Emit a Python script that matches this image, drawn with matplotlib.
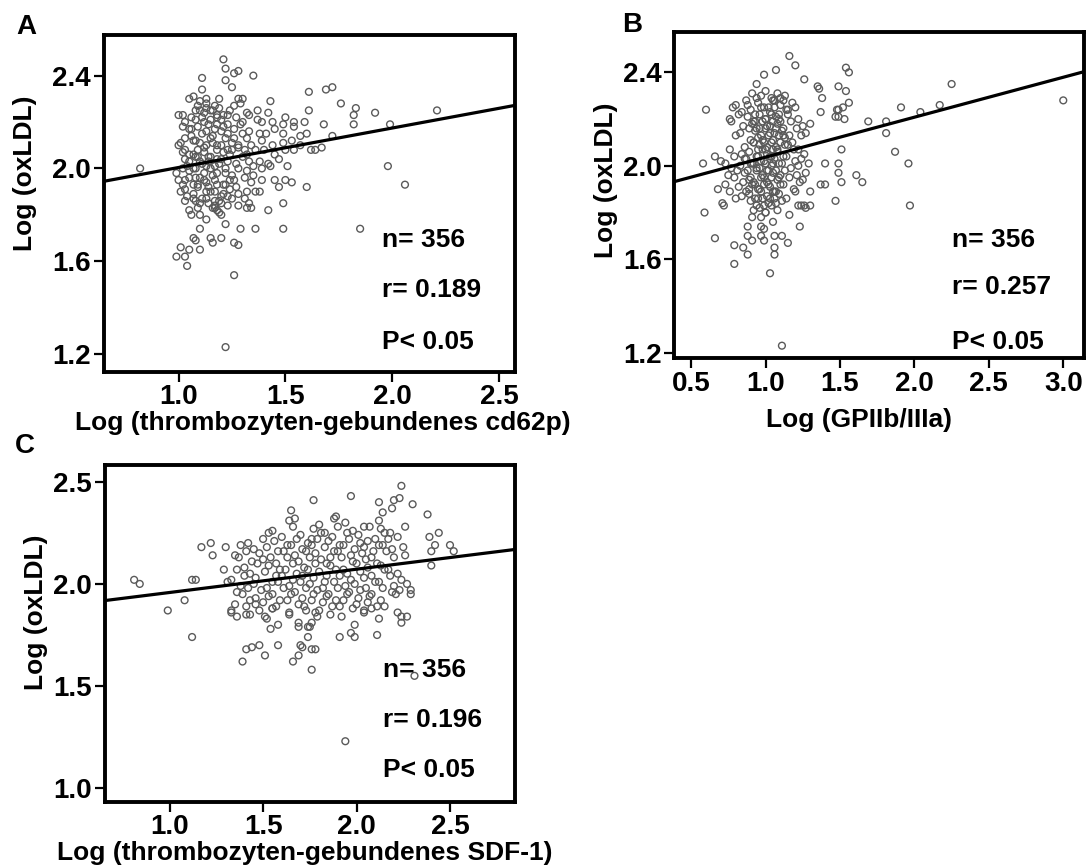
from matplotlib import pyplot as plt
import numpy as np

plt.rcParams["font.family"] = ["Liberation Sans", "DejaVu Sans"]
plt.rcParams["font.weight"] = "bold"
plt.rcParams["font.size"] = 19

# ---- panel A : Log(thrombozyten-gebundenes cd62p) vs Log(oxLDL) ----
a_x = [1.05, 1.07, 1.10, 1.13, 1.17, 1.28, 1.30, 1.29,
       1.02, 1.08, 1.10, 1.13, 1.16, 1.18, 1.23, 1.26, 1.32, 1.37, 1.42, 1.50, 1.54,
       1.00, 1.03, 1.08, 1.11, 1.15, 1.18, 1.21, 1.23, 1.27, 1.30, 1.33, 1.37, 1.39, 1.44, 1.49, 1.54,
       1.02, 1.05, 1.09, 1.13, 1.17, 1.20, 1.23, 1.26, 1.30, 1.33, 1.38, 1.41, 1.45, 1.49, 1.57, 1.60,
       1.01, 1.03, 1.07, 1.10, 1.13, 1.15, 1.18, 1.22, 1.25, 1.28, 1.32, 1.34, 1.39, 1.44, 1.49, 1.53, 1.57,
       1.00, 1.03, 1.07, 1.09, 1.12, 1.15, 1.18, 1.21, 1.25, 1.28, 1.32, 1.36, 1.40, 1.45, 1.50,
       1.03, 1.05, 1.08, 1.11, 1.14, 1.17, 1.20, 1.23, 1.27, 1.30, 1.33, 1.38, 1.42, 1.47,
       0.99, 1.02, 1.05, 1.08, 1.12, 1.15, 1.18, 1.22, 1.25, 1.28, 1.32, 1.35, 1.39, 1.43,
       1.00, 1.03, 1.07, 1.10, 1.13, 1.17, 1.21, 1.24, 1.27, 1.31, 1.34, 1.39, 1.45, 1.47,
       1.01, 1.03, 1.07, 1.09, 1.13, 1.17, 1.20, 1.24, 1.28, 1.32, 1.36, 1.38,
       1.03, 1.07, 1.10, 1.13, 1.17, 1.20, 1.25, 1.31, 1.33,
       1.05, 1.09, 1.17, 1.18, 1.23, 1.28, 1.32, 1.34,
       1.12, 1.14, 1.19, 1.20, 1.16, 1.11, 1.06, 1.09, 1.13, 1.16, 1.19, 1.14, 1.08, 1.11,
       1.17, 1.19, 1.21, 1.24, 1.26, 1.05,
       0.82, 1.21, 1.22, 1.22, 1.26, 1.28, 1.35, 1.11, 1.11, 1.25, 1.61, 1.69, 1.72, 1.43,
       1.76, 1.83, 1.92, 2.21, 1.99, 1.82, 1.82, 1.68, 1.72, 1.61, 1.59, 1.62, 1.64, 1.67,
       1.54, 1.98, 2.06, 1.60, 1.53, 1.50, 1.51, 1.85, 1.49, 1.36, 1.29, 1.22, 1.42, 1.49,
       1.26, 1.22, 1.26, 1.28, 1.20, 1.16, 1.15, 1.07, 1.08, 1.10, 1.01, 1.05, 1.03, 1.04,
       0.99, 1.10, 1.06, 1.13, 1.20,
       1.06, 1.09, 1.12, 1.15, 1.18, 1.21, 1.08, 1.12, 1.16, 1.20, 1.23, 1.04, 1.07, 1.10,
       1.14, 1.18, 1.22, 1.05, 1.09, 1.12, 1.15, 1.18, 1.22, 1.26, 1.04, 1.08, 1.14, 1.16,
       1.19, 1.23, 1.02, 1.06, 1.13, 1.19, 1.24, 1.29, 1.31, 1.35, 1.02, 1.10]
a_y = [2.30, 2.31, 2.29, 2.28, 2.27, 2.30, 2.30, 2.28,
       2.23, 2.25, 2.25, 2.26, 2.25, 2.23, 2.23, 2.27, 2.24, 2.25, 2.24, 2.22, 2.20,
       2.23, 2.20, 2.21, 2.22, 2.21, 2.19, 2.23, 2.19, 2.22, 2.20, 2.23, 2.21, 2.20, 2.20, 2.19, 2.18,
       2.18, 2.17, 2.18, 2.16, 2.17, 2.16, 2.15, 2.17, 2.15, 2.16, 2.15, 2.15, 2.17, 2.15, 2.14, 2.15,
       2.11, 2.13, 2.12, 2.11, 2.10, 2.13, 2.10, 2.13, 2.11, 2.10, 2.13, 2.10, 2.12, 2.10, 2.11, 2.12, 2.10,
       2.10, 2.08, 2.06, 2.08, 2.07, 2.05, 2.08, 2.07, 2.08, 2.09, 2.06, 2.08, 2.08, 2.06, 2.08,
       2.04, 2.03, 2.05, 2.02, 2.03, 2.01, 2.04, 2.03, 2.02, 2.05, 2.03, 2.03, 2.02, 2.04,
       1.98, 2.00, 1.99, 2.00, 1.98, 2.00, 1.98, 2.00, 1.97, 2.00, 1.99, 1.97, 2.00, 2.01,
       1.95, 1.95, 1.93, 1.96, 1.94, 1.95, 1.93, 1.95, 1.92, 1.96, 1.94, 1.95, 1.95, 1.92,
       1.90, 1.91, 1.89, 1.92, 1.90, 1.90, 1.88, 1.91, 1.89, 1.90, 1.90, 1.90,
       1.86, 1.87, 1.85, 1.87, 1.86, 1.85, 1.87, 1.87, 1.85,
       1.82, 1.83, 1.83, 1.82, 1.84, 1.84, 1.83, 1.83,
       2.24, 2.19, 2.26, 2.21, 2.14, 2.15, 2.14, 2.05, 2.01, 1.97, 2.02, 1.92, 1.96, 1.87,
       1.84, 1.81, 1.89, 2.06, 2.13, 2.06,
       2.00, 2.47, 2.43, 2.38, 2.41, 2.42, 2.40, 2.39, 2.34, 2.35, 2.33, 2.34, 2.35, 2.29,
       2.28, 2.26, 2.24, 2.25, 2.19, 2.19, 2.23, 2.19, 2.14, 2.25, 2.20, 2.08, 2.08, 2.09,
       2.08, 2.01, 1.93, 1.92, 1.94, 1.95, 2.01, 1.74, 1.74, 1.74, 1.74, 1.76, 1.82, 1.85,
       1.54, 1.23, 1.68, 1.67, 1.70, 1.68, 1.70, 1.70, 1.69, 1.65, 1.66, 1.65, 1.62, 1.58,
       1.62, 1.74, 1.80, 1.78, 1.80,
       2.22, 2.27, 2.20, 2.25, 2.22, 2.18, 2.12, 2.09, 2.11, 2.10, 2.08, 2.01, 2.00, 2.03,
       2.05, 2.04, 1.98, 1.96, 1.93, 1.95, 1.90, 1.93, 1.93, 1.95, 1.88, 1.86, 1.85, 1.83,
       1.86, 1.88, 2.07, 2.17, 2.30, 2.30, 2.25, 2.19, 2.08, 2.01, 1.93, 1.80]
a_fit = (1.834, 0.170)   # intercept, slope
a_stats = ["n= 356", "r= 0.189", "P< 0.05"]

# ---- panel B : Log(GPIIb/IIIa) vs Log(oxLDL) ----
b_x = [0.91, 0.94, 0.97, 1.00, 1.05, 1.08, 1.10, 1.13,
       0.80, 0.87, 0.95, 1.02, 1.06, 1.10, 1.12, 1.18,
       0.78, 0.84, 0.90, 0.93, 0.99, 1.03, 1.06, 1.09, 1.14, 1.20,
       0.76, 0.82, 0.88, 0.92, 0.96, 1.00, 1.04, 1.07, 1.10, 1.15, 1.22,
       0.77, 0.85, 0.91, 0.94, 0.98, 1.01, 1.05, 1.08, 1.12, 1.17, 1.25, 1.30,
       0.83, 0.89, 0.93, 0.97, 1.00, 1.03, 1.07, 1.11, 1.16, 1.21, 1.27,
       0.80, 0.90, 0.95, 0.99, 1.02, 1.05, 1.09, 1.13, 1.18, 1.24,
       0.86, 0.92, 0.96, 1.00, 1.04, 1.07, 1.10, 1.15, 1.22,
       0.76, 0.84, 0.89, 0.94, 0.98, 1.01, 1.05, 1.08, 1.12, 1.19, 1.26,
       0.70, 0.79, 0.87, 0.91, 0.95, 0.99, 1.03, 1.06, 1.09, 1.14, 1.20, 1.24,
       0.73, 0.77, 0.83, 0.88, 0.92, 0.96, 1.00, 1.04, 1.07, 1.11, 1.17, 1.22, 1.29,
       0.75, 0.81, 0.86, 0.90, 0.94, 0.98, 1.02, 1.05, 1.09, 1.13, 1.21, 1.27,
       0.79, 0.85, 0.89, 0.93, 0.97, 1.01, 1.04, 1.08, 1.12, 1.16, 1.23, 1.25,
       0.68, 0.73, 0.82, 0.87, 0.91, 0.95, 0.99, 1.03, 1.07, 1.10, 1.19,
       0.76, 0.84, 0.89, 0.93, 0.97, 1.01, 1.05, 1.09, 1.14, 1.20,
       0.71, 0.80, 0.90, 0.94, 0.98, 1.02, 1.06, 1.11, 1.22,
       0.72, 0.92, 0.96, 1.00, 1.04, 1.08, 1.24, 1.27,
       0.60, 0.58, 0.66, 0.59, 0.66, 0.79, 0.85, 0.79, 0.88, 1.03, 1.11, 1.16, 1.20, 1.07,
       0.99, 0.94, 1.26, 1.35, 1.36, 1.38, 1.49, 1.54, 1.54, 1.56, 1.56, 1.49, 1.52, 1.48,
       1.37, 1.49, 1.53, 1.47, 1.69, 1.81, 1.81, 1.91, 2.04, 2.17, 2.25, 3.00, 1.87, 1.96,
       1.97, 1.61, 1.65, 1.51, 1.51, 1.47, 1.49, 1.49, 1.40, 1.37, 1.40, 1.30, 1.26, 1.30,
       1.23, 1.16, 1.15, 1.11, 1.06, 1.06, 1.06, 0.99, 0.97, 0.99, 0.97, 0.91, 0.97, 0.88,
       0.88, 0.91, 1.05,
       0.93, 0.96, 1.00, 1.03, 1.06, 1.09, 0.92, 0.95, 0.98, 1.01, 1.04, 1.08, 0.90, 0.94,
       0.97, 1.01, 1.05, 0.92, 0.96, 0.99, 1.02, 1.06, 0.95, 0.99, 1.03, 1.07, 1.10, 1.13,
       1.15, 0.88, 0.97, 1.04, 1.12, 0.86, 0.89, 1.00]
b_y = [2.31, 2.29, 2.30, 2.32, 2.28, 2.31, 2.29, 2.30,
       2.26, 2.28, 2.27, 2.25, 2.28, 2.26, 2.28, 2.27,
       2.25, 2.23, 2.24, 2.22, 2.25, 2.23, 2.25, 2.22, 2.24, 2.25,
       2.20, 2.22, 2.21, 2.19, 2.22, 2.20, 2.22, 2.21, 2.19, 2.22, 2.20,
       2.19, 2.17, 2.18, 2.16, 2.19, 2.17, 2.19, 2.18, 2.16, 2.19, 2.17, 2.18,
       2.14, 2.16, 2.15, 2.13, 2.16, 2.14, 2.16, 2.15, 2.13, 2.16, 2.14,
       2.13, 2.11, 2.12, 2.10, 2.13, 2.11, 2.13, 2.12, 2.10, 2.13,
       2.08, 2.10, 2.09, 2.07, 2.10, 2.08, 2.10, 2.09, 2.07,
       2.07, 2.05, 2.06, 2.04, 2.07, 2.05, 2.07, 2.06, 2.04, 2.07, 2.05,
       2.02, 2.04, 2.03, 2.01, 2.04, 2.02, 2.04, 2.03, 2.01, 2.04, 2.02, 2.03,
       2.01, 1.99, 2.00, 1.98, 2.01, 1.99, 2.01, 2.00, 1.98, 2.01, 1.99, 2.00, 2.01,
       1.96, 1.98, 1.97, 1.95, 1.98, 1.96, 1.98, 1.97, 1.95, 1.98, 1.96, 1.97,
       1.95, 1.93, 1.94, 1.92, 1.95, 1.93, 1.95, 1.94, 1.92, 1.95, 1.93, 1.94,
       1.90, 1.92, 1.91, 1.89, 1.92, 1.90, 1.92, 1.91, 1.89, 1.92, 1.90,
       1.89, 1.87, 1.88, 1.86, 1.89, 1.87, 1.89, 1.88, 1.86, 1.89,
       1.84, 1.86, 1.85, 1.83, 1.86, 1.84, 1.86, 1.85, 1.83,
       1.83, 1.81, 1.82, 1.80, 1.83, 1.81, 1.83, 1.82,
       2.24, 2.01, 2.04, 1.80, 1.69, 1.66, 1.65, 1.58, 1.62, 1.54, 1.23, 2.47, 2.43, 2.41,
       2.39, 2.35, 2.37, 2.34, 2.33, 2.29, 2.34, 2.32, 2.42, 2.40, 2.27, 2.24, 2.25, 2.24,
       2.23, 2.21, 2.20, 2.21, 2.19, 2.19, 2.14, 2.25, 2.23, 2.26, 2.35, 2.28, 2.06, 2.01,
       1.83, 1.96, 1.93, 2.07, 1.93, 1.85, 2.01, 1.97, 2.01, 1.92, 1.92, 1.89, 1.83, 1.83,
       1.74, 1.79, 1.67, 1.70, 1.70, 1.65, 1.62, 1.68, 1.70, 1.73, 1.74, 1.78, 1.78, 1.74,
       1.70, 1.68, 1.76,
       2.19, 2.16, 2.20, 2.17, 2.14, 2.20, 2.10, 2.07, 2.11, 2.08, 2.04, 2.07, 2.01, 1.99,
       2.02, 1.98, 2.01, 1.93, 1.90, 1.95, 1.92, 1.89, 1.86, 1.83, 1.86, 1.84, 1.96, 2.09,
       2.24, 2.26, 2.25, 2.29, 2.13, 2.03, 1.90, 1.80]
b_fit = (1.866, 0.171)
b_stats = ["n= 356", "r= 0.257", "P< 0.05"]

# ---- panel C : Log(thrombozyten-gebundenes SDF-1) vs Log(oxLDL) ----
c_x = [1.64, 1.80, 1.88, 1.94, 2.07, 2.12,
       1.55, 1.66, 1.77, 1.83, 1.90, 1.98, 2.04, 2.13, 2.18, 2.26,
       1.53, 1.60, 1.70, 1.76, 1.81, 1.87, 1.95, 2.01, 2.10, 2.15, 2.22,
       1.42, 1.50, 1.56, 1.63, 1.68, 1.74, 1.79, 1.85, 1.91, 1.96, 2.02, 2.06, 2.12, 2.17,
       1.38, 1.45, 1.52, 1.58, 1.65, 1.71, 1.76, 1.83, 1.88, 1.93, 1.99, 2.04, 2.09, 2.14, 2.19, 2.25,
       1.35, 1.41, 1.48, 1.54, 1.61, 1.67, 1.73, 1.78, 1.86, 1.90, 1.97, 2.03, 2.08, 2.16, 2.26,
       1.37, 1.44, 1.50, 1.57, 1.63, 1.69, 1.75, 1.81, 1.84, 1.92, 1.98, 2.05, 2.11, 2.20,
       1.40, 1.47, 1.53, 1.59, 1.66, 1.72, 1.78, 1.86, 1.93, 2.00, 2.06, 2.13, 2.17,
       1.36, 1.43, 1.51, 1.57, 1.62, 1.68, 1.74, 1.80, 1.84, 1.89, 1.95, 2.02, 2.08, 2.15, 2.22,
       1.33, 1.40, 1.46, 1.55, 1.60, 1.66, 1.71, 1.77, 1.83, 1.91, 1.97, 2.04, 2.10, 2.18, 2.24,
       1.31, 1.38, 1.45, 1.52, 1.58, 1.64, 1.70, 1.75, 1.82, 1.88, 1.94, 1.99, 2.05, 2.12, 2.20, 2.27,
       1.36, 1.42, 1.49, 1.55, 1.61, 1.67, 1.73, 1.79, 1.85, 1.90, 1.96, 2.02, 2.08, 2.14, 2.19, 2.23,
       1.39, 1.46, 1.53, 1.59, 1.65, 1.71, 1.77, 1.84, 1.89, 1.95, 2.01, 2.07, 2.13, 2.21,
       1.35, 1.43, 1.50, 1.57, 1.63, 1.69, 1.76, 1.82, 1.87, 1.93, 2.00, 2.06, 2.11,
       1.41, 1.48, 1.55, 1.64, 1.72, 1.80, 1.91, 1.98, 2.04, 2.15,
       0.81, 0.84, 0.99, 1.08, 1.12, 1.12, 1.14, 1.17, 1.22, 1.23, 1.29, 1.30, 1.39, 1.41,
       1.44, 1.48, 1.51, 1.58, 1.66, 1.69, 1.70, 1.71, 1.76, 1.78, 1.76, 1.74, 1.91, 1.97,
       1.99, 2.11, 2.31, 1.94, 1.77, 1.97, 2.24, 2.23, 2.20, 2.30, 2.12, 2.19, 2.14, 2.38,
       1.65, 1.67, 1.89, 2.44, 2.39, 2.42, 2.50, 2.52, 2.40, 2.40, 2.22, 2.24, 2.24, 2.27,
       2.12, 2.29, 2.29, 2.08, 2.04, 1.99, 1.92, 1.86, 1.79, 1.78, 1.73, 1.74, 1.76, 1.75,
       1.69, 1.69, 1.64, 1.58, 1.54, 1.52, 1.51, 1.43, 1.41, 1.36, 1.33, 1.33, 1.46, 1.55]
c_y = [2.31, 2.29, 2.32, 2.30, 2.28, 2.31,
       2.26, 2.28, 2.27, 2.25, 2.28, 2.26, 2.28, 2.27, 2.25, 2.28,
       2.25, 2.23, 2.24, 2.22, 2.25, 2.23, 2.25, 2.24, 2.22, 2.25, 2.23,
       2.20, 2.22, 2.21, 2.19, 2.22, 2.20, 2.22, 2.21, 2.19, 2.22, 2.20, 2.21, 2.19, 2.22,
       2.19, 2.17, 2.18, 2.16, 2.19, 2.17, 2.19, 2.18, 2.16, 2.19, 2.17, 2.18, 2.16, 2.19, 2.17, 2.18,
       2.14, 2.16, 2.15, 2.13, 2.16, 2.14, 2.16, 2.15, 2.13, 2.16, 2.14, 2.15, 2.13, 2.16, 2.14,
       2.13, 2.11, 2.12, 2.10, 2.13, 2.11, 2.13, 2.12, 2.10, 2.13, 2.11, 2.12, 2.10, 2.13,
       2.08, 2.10, 2.09, 2.07, 2.10, 2.08, 2.10, 2.09, 2.07, 2.10, 2.08, 2.09, 2.07,
       2.07, 2.05, 2.06, 2.04, 2.07, 2.05, 2.07, 2.06, 2.04, 2.07, 2.05, 2.06, 2.04, 2.07, 2.05,
       2.02, 2.04, 2.03, 2.01, 2.04, 2.02, 2.04, 2.03, 2.01, 2.04, 2.02, 2.03, 2.01, 2.04, 2.02,
       2.01, 1.99, 2.00, 1.98, 2.01, 1.99, 2.01, 2.00, 1.98, 2.01, 1.99, 2.00, 1.98, 2.01, 1.99, 2.00,
       1.96, 1.98, 1.97, 1.95, 1.98, 1.96, 1.98, 1.97, 1.95, 1.98, 1.96, 1.97, 1.95, 1.98, 1.96, 1.97,
       1.95, 1.93, 1.94, 1.92, 1.95, 1.93, 1.95, 1.94, 1.92, 1.95, 1.93, 1.94, 1.92, 1.95,
       1.90, 1.92, 1.91, 1.89, 1.92, 1.90, 1.92, 1.91, 1.89, 1.92, 1.90, 1.91, 1.89,
       1.89, 1.87, 1.88, 1.86, 1.89, 1.87, 1.89, 1.88, 1.86, 1.89,
       2.02, 2.00, 1.87, 1.92, 1.74, 2.02, 2.02, 2.18, 2.20, 2.14, 2.07, 2.18, 1.62, 1.68,
       1.69, 1.70, 1.65, 1.70, 1.62, 1.65, 1.70, 1.69, 1.68, 1.68, 1.58, 1.74, 1.74, 1.76,
       1.74, 1.75, 1.55, 1.23, 2.41, 2.43, 2.48, 2.42, 2.41, 2.39, 2.40, 2.37, 2.35, 2.34,
       2.36, 2.32, 2.33, 2.25, 2.23, 2.19, 2.19, 2.16, 2.09, 2.16, 1.86, 1.84, 1.81, 1.84,
       1.83, 1.97, 1.95, 1.88, 1.87, 1.80, 1.84, 1.85, 1.84, 1.86, 1.87, 1.79, 1.81, 1.79,
       1.81, 1.79, 1.85, 1.80, 1.78, 1.83, 1.84, 1.85, 1.85, 1.84, 1.86, 1.87, 1.90, 1.88]
c_fit = (1.844, 0.114)
c_stats = ["n= 356", "r= 0.196", "P< 0.05"]

W, H = 1087, 868


def figpos(left, top, right, bottom):
    # pixel box -> figure fraction [l, b, w, h]
    return [left / W, 1 - bottom / H, (right - left) / W, (bottom - top) / H]


def panel(ax, xs, ys, fit, stats, xlim, ylim, xticks, yticks, xlabel, xlab_pos, ylab_pos, stat_y):
    ax.scatter(xs, ys, s=24, facecolors='none', edgecolors='#5a5a5a', linewidths=1.0, zorder=2)
    lx = np.array(xlim)
    ax.plot(lx, fit[0] + fit[1] * lx, color='black', linewidth=2.3, zorder=3)
    ax.set_xlim(*xlim)
    ax.set_ylim(*ylim)
    ax.set_xticks(xticks)
    ax.set_yticks(yticks)
    ax.set_xticklabels(['%.1f' % t for t in xticks])
    ax.set_yticklabels(['%.1f' % t for t in yticks])
    for side in ['top', 'right', 'bottom', 'left']:
        ax.spines[side].set_linewidth(2.8)
    ax.tick_params(direction='out', length=7, width=1.6, pad=2, labelsize=20)
    ax.set_xlabel(xlabel, fontsize=19, fontweight='bold')
    ax.set_ylabel('Log (oxLDL)', fontsize=19, fontweight='bold')
    ax.xaxis.set_label_coords(xlab_pos[0] / W, 1 - xlab_pos[1] / H, transform=fig.transFigure)
    ax.yaxis.set_label_coords(ylab_pos[0] / W, 1 - ylab_pos[1] / H, transform=fig.transFigure)
    ax.xaxis.label.set_va('center')
    ax.yaxis.label.set_va('center')
    for s, yy in zip(stats, stat_y):
        ax.text(0.677, yy, s, transform=ax.transAxes, ha='left', va='center',
                fontsize=19, fontweight='bold')


fig = plt.figure(figsize=(W / 100, H / 100), dpi=100)

ax_a = fig.add_axes(figpos(103.6, 35, 515.4, 371.7))
panel(ax_a, a_x, a_y, a_fit, a_stats, (0.649, 2.577), (1.124, 2.575),
      [1.0, 1.5, 2.0, 2.5], [1.2, 1.6, 2.0, 2.4],
      'Log (thrombozyten-gebundenes cd62p)', (323, 423), (25, 173), [0.391, 0.243, 0.089])

ax_b = fig.add_axes(figpos(674.3, 31.7, 1084.4, 358.3))
panel(ax_b, b_x, b_y, b_fit, b_stats, (0.387, 3.142), (1.176, 2.574),
      [0.5, 1.0, 1.5, 2.0, 2.5, 3.0], [1.2, 1.6, 2.0, 2.4],
      'Log (GPIIb/IIIa)', (859, 420), (606, 180), [0.362, 0.219, 0.051])

ax_c = fig.add_axes(figpos(104.6, 465, 515.4, 801.7))
panel(ax_c, c_x, c_y, c_fit, c_stats, (0.652, 2.85), (0.934, 2.582),
      [1.0, 1.5, 2.0, 2.5], [1.0, 1.5, 2.0, 2.5],
      'Log (thrombozyten-gebundenes SDF-1)', (305, 853), (36, 612), [0.391, 0.243, 0.094])

for letter, (px, py) in zip('ABC', [(26, 27), (632, 25), (25, 446)]):
    fig.text(px / W, 1 - py / H, letter, ha='center', va='center', fontsize=20, fontweight='bold')

fig.savefig('out.png', dpi=100)
